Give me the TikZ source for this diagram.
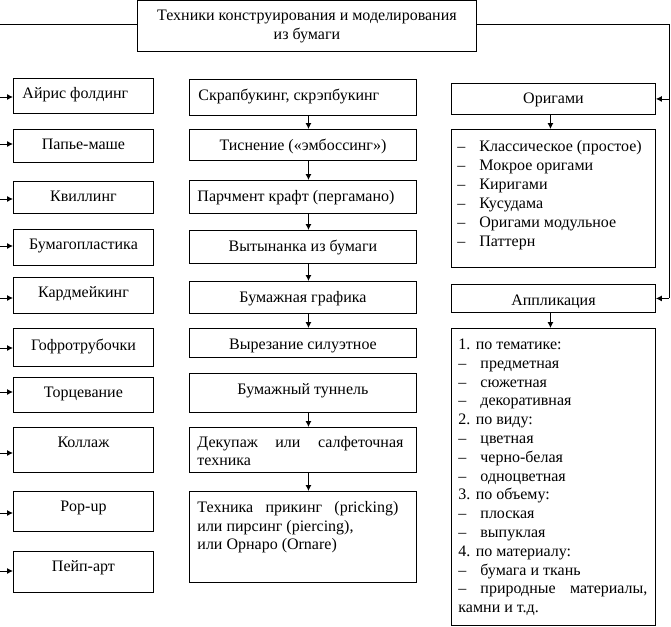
\documentclass[tikz,border=0pt]{standalone}
\usepackage{fontspec}
\setmainfont{Liberation Serif}
\usetikzlibrary{arrows.meta}
\newcommand{\cbox}[4]{\parbox[c][#2pt][t]{#1pt}{\centering\rule{0pt}{#3pt}#4\par}}
\newcommand{\lbox}[5]{\parbox[c][#2pt][t]{#1pt}{\raggedright\leftskip=#4pt\rule{0pt}{#3pt}#5\par}}
\tikzset{
  box/.style={draw, line width=0.9pt, inner sep=0pt, anchor=north west, font=\fontsize{16}{18.5}\selectfont},
  arr/.style={line width=0.9pt, -{Latex[length=6pt,width=6pt]}},
  ln/.style={line width=0.9pt}
}
\begin{document}
\begin{tikzpicture}[x=1pt,y=-1pt]
\useasboundingbox (0,0) rectangle (671,626);
% title
\node[box] (title) at (137,0.5) {\parbox[c][50.5pt][t]{339pt}{\centering\rule{0pt}{20pt}Техники конструирования и моделирования\\из бумаги\par}};
% left column
\node[box] (a1) at (13,78) {\lbox{140}{35}{20}{9}{Айрис фолдинг}};
\node[box] (a2) at (13,129) {\cbox{140}{33}{20}{Папье-маше}};
\node[box] (a3) at (13,181) {\cbox{140}{32}{20}{Квиллинг}};
\node[box] (a4) at (13,229) {\cbox{140}{36}{20}{Бумагопластика}};
\node[box] (a5) at (13,277) {\cbox{140}{36}{20}{Кардмейкинг}};
\node[box] (a6) at (13,328) {\cbox{140}{38}{22}{Гофротрубочки}};
\node[box] (a7) at (13,377) {\cbox{140}{35}{20}{Торцевание}};
\node[box] (a8) at (13,427) {\cbox{140}{45}{20}{Коллаж}};
\node[box] (a9) at (13,491) {\cbox{140}{40}{20.5}{Pop-up}};
\node[box] (a10) at (13,551) {\cbox{140}{41}{20.5}{Пейп-арт}};
% middle column
\node[box] (m1) at (189,79) {\lbox{227}{36}{21}{9}{Скрапбукинг, скрэпбукинг}};
\node[box] (m2) at (189,129) {\cbox{227}{31}{21}{Тиснение («эмбоссинг»)}};
\node[box] (m3) at (189,180) {\lbox{227}{33}{21}{8}{Парчмент крафт (пергамано)}};
\node[box] (m4) at (189,230) {\cbox{227}{33}{21.5}{Вытынанка из бумаги}};
\node[box] (m5) at (189,281) {\cbox{227}{32}{21.5}{Бумажная графика}};
\node[box] (m6) at (189,328) {\cbox{227}{29}{21}{Вырезание силуэтное}};
\node[box] (m7) at (189,373) {\cbox{227}{39}{21}{Бумажный туннель}};
\node[box] (m8) at (189,427) {\lbox{227}{45}{20}{8}{\makebox[206pt][s]{Декупаж\hfill или\hfill салфеточная}\\техника}};
\node[box] (m9) at (189,491) {\lbox{227}{91}{21.5}{8}{\makebox[201pt][s]{Техника\hfill прикинг\hfill (pricking)}\\или пирсинг (piercing),\\или Орнаро (Ornare)}};
% right column
\node[box] (r1) at (451,83) {\cbox{204}{31}{20}{Оригами}};
\node[box] (r2) at (451,129) {\parbox[c][138pt][t]{204pt}{\baselineskip=19pt\leftskip=6pt\rule{0pt}{22.5pt}%
\makebox[22pt][l]{–}Классическое (простое)\\
\makebox[22pt][l]{–}Мокрое оригами\\
\makebox[22pt][l]{–}Киригами\\
\makebox[22pt][l]{–}Кусудама\\
\makebox[22pt][l]{–}Оригами модульное\\
\makebox[22pt][l]{–}Паттерн\par}};
\node[box] (r3) at (451,284) {\cbox{204}{28}{21}{Аппликация}};
\node[box] (r4) at (451,328) {\parbox[c][297pt][t]{204pt}{\baselineskip=18.8pt\leftskip=7pt\rule{0pt}{21pt}%
1. по тематике:\\
\makebox[22pt][l]{–}предметная\\
\makebox[22pt][l]{–}сюжетная\\
\makebox[22pt][l]{–}декоративная\\
2. по виду:\\
\makebox[22pt][l]{–}цветная\\
\makebox[22pt][l]{–}черно-белая\\
\makebox[22pt][l]{–}одноцветная\\
3. по объему:\\
\makebox[22pt][l]{–}плоская\\
\makebox[22pt][l]{–}выпуклая\\
4. по материалу:\\
\makebox[22pt][l]{–}бумага и ткань\\
\makebox[189pt][s]{\makebox[22pt][l]{–}природные\hfill материалы,}\\
камни и т.д.\par}};
% connectors from title
\coordinate (tl) at (0,24);
\coordinate (tr) at (669,24);
\draw[ln] (title.west |- tl) -- (tl);
\draw[ln] (title.east |- tr) -- (tr) -- (tr |- r3.east);
\draw[arr] (tr |- r1.east) -- (r1.east);
\draw[arr] (tr |- r3.east) -- (r3.east);
% left stubs
\foreach \n/\y in {a1/97,a2/144,a3/199,a4/246,a5/298,a6/348,a7/392,a8/453,a9/513,a10/571}{
  \coordinate (s\n) at (0,\y);
  \draw[arr] (s\n) -- (s\n -| \n.west);
}
% middle chain
\foreach \p/\q in {m1/m2,m2/m3,m3/m4,m4/m5,m5/m6,m7/m8,m8/m9}{
  \draw[arr] ([xshift=5.5pt]\p.south) -- ([xshift=5.5pt]\q.north);
}
% right chain
\draw[arr] ([xshift=-3pt]r1.south) -- ([xshift=-3pt]r2.north);
\draw[arr] ([xshift=-3pt]r3.south) -- ([xshift=-3pt]r4.north);
\end{tikzpicture}
\end{document}
